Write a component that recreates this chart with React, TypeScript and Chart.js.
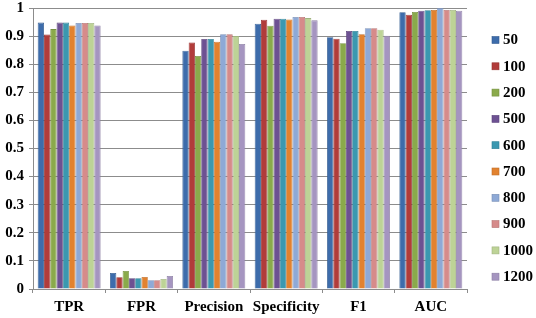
import React, { useEffect, useRef } from "react";
import { Chart, registerables } from "chart.js";

Chart.register(...registerables);

const categories = ["TPR", "FPR", "Precision", "Specificity", "F1", "AUC"];
const seriesLabels = ["50", "100", "200", "500", "600", "700", "800", "900", "1000", "1200"];
const seriesColors = [
  "#3D6CAB", "#B13C3A", "#8AAA4B", "#6D5192", "#3B98B0",
  "#E2822F", "#8EA9D6", "#D68B8A", "#BDD396", "#A595C0",
];
const v50 = [0.948, 0.057, 0.848, 0.944, 0.896, 0.985];
const v100 = [0.906, 0.042, 0.877, 0.958, 0.891, 0.976];
const v200 = [0.925, 0.064, 0.829, 0.937, 0.875, 0.986];
const v500 = [0.948, 0.038, 0.89, 0.962, 0.918, 0.99];
const v600 = [0.948, 0.038, 0.89, 0.962, 0.918, 0.992];
const v700 = [0.938, 0.043, 0.88, 0.959, 0.907, 0.993];
const v800 = [0.947, 0.031, 0.907, 0.968, 0.928, 1.0];
const v900 = [0.947, 0.031, 0.907, 0.968, 0.928, 0.993];
const v1000 = [0.947, 0.036, 0.9, 0.964, 0.923, 0.993];
const v1200 = [0.938, 0.046, 0.872, 0.956, 0.901, 0.99];
const seriesValues = [v50, v100, v200, v500, v600, v700, v800, v900, v1000, v1200];
const yTicks = ["0", "0.1", "0.2", "0.3", "0.4", "0.5", "0.6", "0.7", "0.8", "0.9", "1"];

const FONT = "'Liberation Serif', 'Times New Roman', serif";

function darken(hex: string, f: number) {
  const n = parseInt(hex.slice(1), 16);
  const r = Math.round(((n >> 16) & 255) * f);
  const g = Math.round(((n >> 8) & 255) * f);
  const b = Math.round((n & 255) * f);
  return `rgb(${r},${g},${b})`;
}

const legendPlugin = {
  id: "sideLegend",
  afterDraw(chart: any) {
    const ctx = chart.ctx;
    ctx.save();
    ctx.font = `bold 15px ${FONT}`;
    ctx.textBaseline = "middle";
    ctx.textAlign = "left";
    chart.data.datasets.forEach((ds: any, i: number) => {
      const y = 39.5 + i * 26.3;
      ctx.fillStyle = ds.backgroundColor;
      ctx.fillRect(492, y - 3, 7, 7);
      ctx.strokeStyle = ds.borderColor;
      ctx.lineWidth = 0.6;
      ctx.strokeRect(492, y - 3, 7, 7);
      ctx.fillStyle = "#000";
      ctx.fillText(ds.label, 503, y + 1);
    });
    ctx.restore();
  },
};

export default function App() {
  const ref = useRef<HTMLCanvasElement>(null);
  useEffect(() => {
    document.body.style.margin = "0";
    const chart = new Chart(ref.current!, {
      type: "bar",
      data: {
        labels: categories,
        datasets: seriesLabels.map((l, i) => ({
          label: l,
          data: seriesValues[i],
          backgroundColor: seriesColors[i],
          borderColor: darken(seriesColors[i], 0.85),
          borderWidth: 0.8,
          categoryPercentage: 0.87,
          barPercentage: 1,
        })),
      },
      options: {
        animation: false,
        responsive: false,
        devicePixelRatio: 1,
        layout: { padding: { top: 8, right: 69, left: 0, bottom: 0 } },
        plugins: { legend: { display: false }, tooltip: { enabled: false } },
        scales: {
          x: {
            grid: {
              offset: true,
              drawOnChartArea: false,
              drawTicks: true,
              tickLength: 4,
              color: "#8C8C8C",
            },
            border: { display: true, color: "#8C8C8C" },
            ticks: {
              color: "#000",
              font: { family: FONT, size: 15, weight: "bold" },
              padding: 5,
              maxRotation: 0,
              minRotation: 0,
              autoSkip: false,
            },
            afterFit(scale: any) {
              scale.height = 29;
              scale.paddingLeft = 0;
              scale.paddingRight = 0;
            },
          },
          y: {
            min: 0,
            max: 1,
            ticks: {
              stepSize: 0.1,
              color: "#000",
              font: { family: FONT, size: 15, weight: "bold" },
              padding: 5,
              callback: (_v: any, i: number) => yTicks[i],
            },
            grid: { color: "#8C8C8C", tickLength: 4, lineWidth: 1 },
            border: { display: true, color: "#8C8C8C" },
            afterFit(scale: any) {
              scale.width = 33;
              scale.paddingTop = 0;
              scale.paddingBottom = 0;
            },
          },
        },
      },
      plugins: [legendPlugin],
    });
    return () => chart.destroy();
  }, []);
  return (
    <div style={{ width: 536, height: 318, background: "#fff" }}>
      <canvas ref={ref} width={536} height={318} style={{ display: "block" }} />
    </div>
  );
}
